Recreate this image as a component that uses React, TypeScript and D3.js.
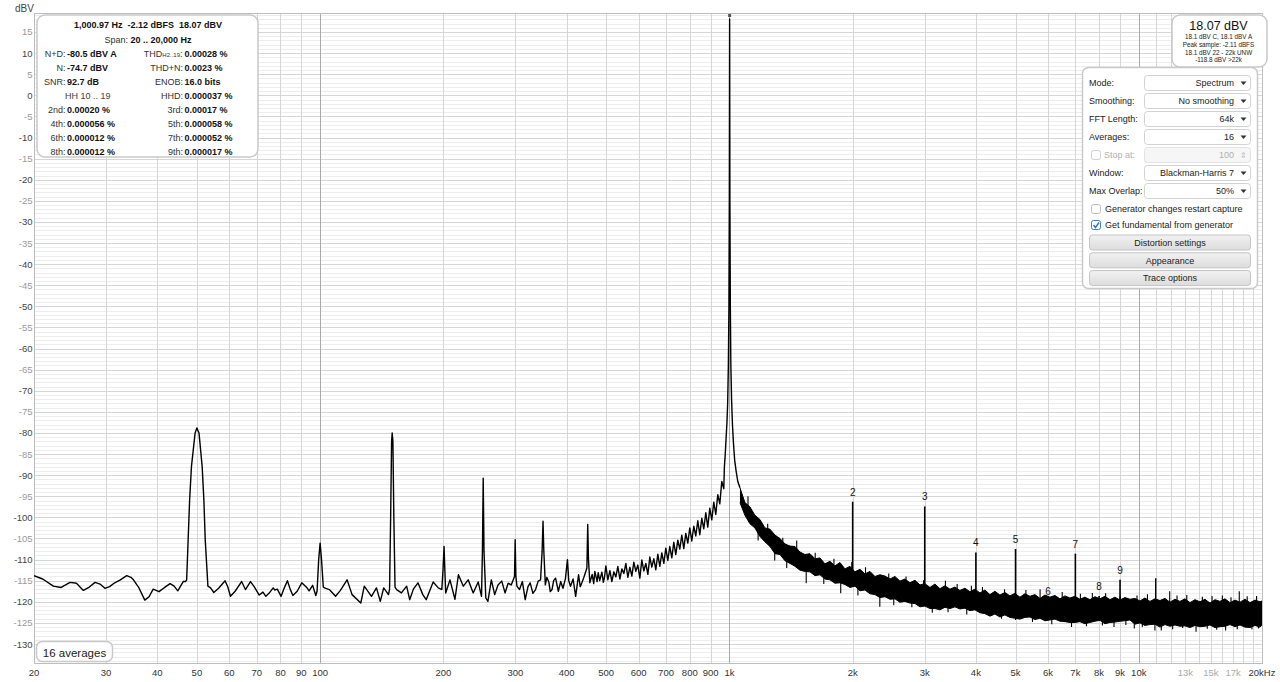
import React from "react";
import * as d3 from "d3";

const FONT = "'Liberation Sans', Arial, Helvetica, sans-serif";
const W = 1280;
const H = 682;
const PLOT = { left: 34, right: 1262, top: 13, bottom: 663 };
const X_DOMAIN: [number, number] = [20, 20000];
const Y_DOMAIN: [number, number] = [-134.5, 19.5];

// ---------- tick labels ----------
const yTickValues = [15, 10, 5, 0, -5, -10, -15, -20, -25, -30, -35, -40, -45, -50, -55, -60, -65, -70, -75, -80, -85, -90, -95, -100, -105, -110, -115, -120, -125, -130];
const xGridFreqs = [20, 30, 40, 50, 60, 70, 80, 90, 100, 200, 300, 400, 500, 600, 700, 800, 900, 1000, 2000, 3000, 4000, 5000, 6000, 7000, 8000, 9000, 10000, 11000, 12000, 13000, 14000, 15000, 16000, 17000, 18000, 19000, 20000];
const xMajorFreqs = [100, 1000, 10000];
const xTickFreqs = [20, 30, 40, 50, 60, 70, 80, 90, 100, 200, 300, 400, 500, 600, 700, 800, 900, 1000, 2000, 3000, 4000, 5000, 6000, 7000, 8000, 9000, 10000, 13000, 15000, 17000, 20000];
const xTickLabels = ["20", "30", "40", "50", "60", "70", "80", "90", "100", "200", "300", "400", "500", "600", "700", "800", "900", "1k", "2k", "3k", "4k", "5k", "6k", "7k", "8k", "9k", "10k", "13k", "15k", "17k", "20kHz"];
const xTickFaint = ["13k", "15k", "17k"];

// ---------- trace: 20 Hz .. 500 Hz (mains hum region) ----------
const humTrace: [number, number][] = [
  [20, -113.8], [21, -114.6], [22.3, -116.3], [23.3, -116.6], [24.5, -115.4], [25.4, -115.6], [26.4, -117.3], [27.3, -116.5],
  [28.2, -115.4], [29, -115.8], [29.8, -116.8], [30.6, -116.4], [31.5, -115.5], [32.5, -114.8], [33.7, -113.8], [34.5, -114.2],
  [35, -114.8], [36, -116.5], [37.3, -119.6], [38.2, -118.8], [39.1, -117], [40.4, -117.6], [41.7, -116.6], [43, -115.7],
  [44, -116.3], [44.9, -117.4], [46.3, -115.2], [46.9, -115.2], [47.2, -114.8], [47.6, -105.3], [48.0, -95.8], [48.5, -87.9],
  [49.5, -80], [50, -78.8], [50.6, -80], [51.5, -87.9], [52.0, -95.8], [52.4, -105.3], [53.2, -116.3], [54, -116.7],
  [55, -117.8], [56.5, -116.8], [58.6, -115], [59.5, -116.5], [60.4, -118.7], [62, -117.5], [64.3, -115.2], [65.7, -117.1],
  [67.6, -115.2], [69, -116.4], [71, -118.4], [72.5, -117.7], [73.7, -118.7], [75, -118], [76.8, -116.7], [77.5, -117.2],
  [78.6, -117], [80.3, -118.7], [81.5, -117], [83.2, -115], [84.5, -117], [85.8, -118.5], [87.9, -117.5], [90.2, -115.5],
  [92.9, -116.7], [94, -117.4], [95.9, -116.1], [97.6, -118.5], [98.3, -117.5], [99.2, -110], [100, -106.1], [100.8, -110],
  [101.8, -116.5], [102.5, -116.7], [105.3, -117.1], [109.1, -118.7], [112.1, -117.3], [116.4, -114.8], [119.7, -118.3],
  [125.7, -120.3], [128.2, -116.3], [133.5, -118.7], [137.3, -116.7], [140.3, -119.9], [143, -116.7], [146.9, -118.3],
  [147.8, -117], [148.7, -100], [149.5, -82], [150, -80], [150.6, -82], [151.4, -100], [152.4, -116.5], [153.8, -117.1],
  [158, -117.9], [162.7, -116.3], [165.5, -119.5], [169, -117], [173.4, -115.5], [178.2, -118.3], [181.6, -119.5],
  [188.9, -115.3], [194.4, -116.7], [198.3, -117.1], [199.5, -113], [200.8, -106.9], [201.8, -113], [202.7, -117.9],
  [207.6, -114.8], [213.5, -119.4], [217.7, -113.6], [223.8, -116.3], [230, -114.8], [236.6, -117.9], [243.3, -115.3],
  [247.9, -118.7], [249.2, -108], [250.3, -90.7], [251.4, -108], [254, -119.1], [257, -119.9], [262, -114.8], [267, -118.3],
  [272, -116], [277.8, -115.1], [283, -117.9], [288, -115.6], [293, -116], [298.5, -114], [299.6, -105.3], [300.8, -114], [302.6, -116.3], [307, -117.1],
  [312, -115.2], [317, -119.5], [322, -116.4], [326, -115.5], [331, -118], [336, -117.1], [341, -115.1], [345.6, -114.8], [348.6, -108], [350.4, -100.9], [352, -108], [355, -116],
  [358, -114.2], [362, -115.3], [365, -117.6], [368.6, -117.1], [372, -115], [376, -114.4], [382, -117.5], [387, -115.2], [392, -116.8], [397.5, -114.5], [402, -110], [405, -115], [409, -116.3],
  [415, -114.6], [421, -118.7], [428, -113.6], [432, -116.4], [436, -115.5], [441, -114.2], [448.5, -112], [450.6, -101.7], [452.5, -110], [456, -115.5], [462, -113.5],
  [466, -115.7], [469, -112.8], [475, -115.2], [478, -113.1], [482, -115], [488, -113], [492, -115.4], [495, -114.3]
];

// ---------- trace: 500 Hz .. 1.06 kHz (fundamental skirt) ----------
const fundamentalTrace: [number, number][] = [
  [499, -111.5], [504.6, -114.8], [510.4, -112.6], [516.1, -115.2], [522, -112.9], [527.9, -114.1], [533.8, -111.6], [539.9, -114.6],
  [546, -112.2], [552.1, -113.3], [558.4, -110.9], [564.7, -114.2], [571.1, -111.8], [577.5, -113.9], [584, -110.6], [590.6, -112.8],
  [597.3, -111.3], [604.1, -114.4], [610.9, -110.1], [617.8, -112.7], [624.8, -110.9], [631.9, -113.5], [639, -109.4], [646.2, -111.8],
  [653.5, -109.8], [660.9, -112.4], [668.4, -108.7], [676, -111.6], [683.6, -108.4], [691.3, -110.9], [699.1, -107.3], [707.1, -110.2],
  [715, -106.9], [723.1, -109.6], [731.3, -105.9], [739.5, -108.8], [747.9, -105.4], [756.3, -107.5], [764.9, -104.2], [773.5, -107.4],
  [782.3, -103.8], [791.1, -106.1], [800.1, -102.5], [809.1, -105.6], [818.3, -102.1], [827.5, -104.4], [836.9, -100.8], [846.3, -104.1],
  [855.9, -100.2], [865.6, -102.7], [875.4, -98.9], [885.3, -102.3], [895.3, -97.8], [905.4, -100.6], [915.7, -96.4], [926, -99.3],
  [936.5, -94.6], [947.1, -96.8], [957.8, -91.5], [968.6, -93.2],
  [972, -88], [976, -85.5], [981, -81.5], [986, -77.5], [990, -73], [994, -64], [997, -50], [999.3, -25], [1000.97, 18.07],
  [1002.6, -25], [1005, -50], [1008, -64], [1012, -72], [1017, -78], [1023, -82.5], [1030, -86.5], [1038, -89], [1048, -91.5], [1061, -93]
];

// ---------- trace: 1.06 kHz .. 20 kHz, per-pixel envelope [Hz, max dBV, min dBV] ----------
const noiseBand: [number, number, number][] = [
  [1061, -93, -96.5], [1091, -96.5, -99.5], [1122, -97.5, -101.5], [1154, -99.5, -102.5], [1187, -100.5, -104.5], [1221, -102.5, -105.8],
  [1256, -102.8, -106.9], [1292, -104.2, -108.6], [1329, -105, -108.8], [1367, -106.3, -110.3], [1406, -106.8, -110.9], [1446, -106.9, -111.6],
  [1487, -108.2, -112.5], [1529, -108.8, -112.8], [1573, -108.6, -112.9], [1618, -109.8, -113.8], [1664, -109.6, -113.6], [1711, -111, -114.6],
  [1760, -110.4, -114.8], [1810, -111.5, -115.6], [1862, -110.7, -115.5], [1915, -112.2, -115.9], [1970, -111.6, -116.6], [2026, -112.9, -116.3],
  [2084, -112.3, -117.4], [2143, -113.4, -117.2], [2204, -112.8, -118.1], [2267, -114, -118.3], [2332, -113.6, -119], [2398, -113.9, -118.8],
  [2467, -114.6, -119.4], [2537, -114, -119.3], [2609, -115.1, -120.1], [2684, -114.6, -119.9], [2760, -115.5, -120.3], [2839, -114.9, -120.4],
  [2920, -116, -121.2], [3003, -115.7, -121], [3089, -116.6, -121.6], [3177, -115.8, -121.6], [3268, -116.9, -121.9], [3361, -116.2, -121.3],
  [3457, -117, -121.6], [3555, -116.5, -121.2], [3657, -117.3, -121.7], [3761, -116.8, -121.5], [3868, -117.6, -122.1], [3979, -117, -121.9],
  [4092, -117.9, -122.6], [4209, -117.2, -122.8], [4329, -118.3, -123.4], [4452, -117.5, -122.9], [4579, -118.4, -123.6], [4710, -117.8, -123.1],
  [4844, -118.6, -123.7], [4982, -118, -123.9], [5124, -118.9, -124.1], [5271, -118.1, -123.7], [5421, -118.7, -123.6], [5576, -118.3, -124.2],
  [5735, -119.2, -123.9], [5898, -118.4, -124.5], [6067, -118.9, -124.3], [6240, -118.5, -124.1], [6418, -119.3, -124.6], [6601, -118.6, -124.7],
  [6789, -119.1, -124.9], [6983, -118.7, -124.9], [7182, -119.4, -124.7], [7387, -118.9, -125.2], [7598, -119.5, -124.9], [7815, -118.8, -124.6],
  [8038, -119.3, -124.4], [8267, -118.7, -125.2], [8503, -119.5, -124.9], [8745, -118.9, -124.8], [8995, -119.6, -124.6], [9252, -119, -124.5],
  [9516, -119.4, -124.3], [9787, -119.2, -125.3], [10066, -119.8, -125], [10353, -119.1, -125.6], [10649, -119.9, -125.4], [10953, -119.3, -125.3],
  [11265, -119.7, -126], [11587, -119.2, -125.4], [11917, -120.1, -125.8], [12257, -119.4, -125.5], [12607, -119.9, -125.8], [12967, -119.3, -125.7],
  [13337, -120.2, -126.1], [13717, -119.5, -125.6], [14109, -120, -125.9], [14511, -119.4, -125.8], [14925, -120.3, -125.5], [15351, -119.5, -126.1],
  [15789, -119.9, -125.9], [16240, -119.3, -125.8], [16703, -120.2, -125.4], [17180, -119.6, -125.9], [17670, -120.1, -125.5], [18174, -119.4, -126],
  [18693, -120.2, -126.1], [19226, -119.6, -125.6], [19775, -120, -126], [20000, -119.8, -125.5]
];

// single-bin noise excursions poking out of the band
const noiseSpikeUp: [number, number][] = [
  [1110, -95], [1240, -101.5], [1350, -104.8], [1460, -105.5], [1620, -108.4], [1800, -109.8], [1990, -110.6], [2150, -111.8], [2450, -113.3],
  [2700, -114], [2980, -114.9], [3370, -115], [3600, -115.8], [3900, -116.2], [4150, -116.5], [4700, -117], [5300, -117.2], [5740, -117],
  [6500, -117.7], [7200, -118.1], [7700, -117.9], [8300, -118], [9000, -118.7], [9900, -118.5], [10500, -118.2], [11900, -117.5], [12400, -118.5],
  [13100, -118.4], [14300, -118.8], [15100, -118.6], [16000, -118.5], [16800, -118.9], [17600, -117.5], [18400, -118.7], [19400, -118.6]
];
const noiseSpikeDown: [number, number][] = [
  [1175, -105.5], [1290, -110.2], [1380, -112], [1540, -115.6], [1700, -115.8], [1870, -118], [2060, -118.5], [2330, -121.2], [2520, -120.8],
  [2790, -121.3], [3130, -122.6], [3420, -122.5], [3800, -123], [4250, -122.8], [4620, -124], [5000, -124.3], [5500, -124.8], [6130, -125.3],
  [6850, -126], [7450, -125.8], [8150, -125.6], [8700, -126], [9300, -125.5], [9750, -126.3], [10200, -126], [10950, -126.8], [11350, -126.8],
  [12100, -126.5], [12800, -126.2], [13800, -127.1], [14700, -126.4], [15500, -126.6], [16300, -126.8], [17400, -126.5], [18900, -126.5], [19600, -126.3]
];

// ---------- harmonic spikes ----------
const harmonicFreq = [2000, 3000, 4000, 5000, 6000, 7000, 8000, 9000];
const harmonicDb = [-96.3, -97.4, -108.3, -107.5, -119.9, -108.6, -118.6, -114.8];
const harmonicLabel = ["2", "3", "4", "5", "6", "7", "8", "9"];
const extraSpikeFreq = [11000];
const extraSpikeDb = [-114.4];

// ---------- readouts ----------
const headline = ["1,000.97 Hz", "-2.12 dBFS", "18.07 dBV"];
const spanText = "20 .. 20,000 Hz";
const infoLeftLabels = ["N+D:", "N:", "SNR:", "", "2nd:", "4th:", "6th:", "8th:"];
const infoLeftValues = ["-80.5 dBV A", "-74.7 dBV", "92.7 dB", "", "0.00020 %", "0.000056 %", "0.000012 %", "0.000012 %"];
const infoRightLabels = ["THD", "THD+N:", "ENOB:", "HHD:", "3rd:", "5th:", "7th:", "9th:"];
const infoRightValues = ["0.00028 %", "0.0023 %", "16.0 bits", "0.000037 %", "0.00017 %", "0.000058 %", "0.000052 %", "0.000017 %"];
const levelBig = "18.07 dBV";
const levelLines = ["18.1 dBV C, 18.1 dBV A", "Peak sample: -2.11 dBFS", "18.1 dBV 22 - 22k UNW", "-118.8 dBV >22k"];
const panelLabels = ["Mode:", "Smoothing:", "FFT Length:", "Averages:", "Stop at:", "Window:", "Max Overlap:"];
const panelValues = ["Spectrum", "No smoothing", "64k", "16", "100", "Blackman-Harris 7", "50%"];
const panelChecks = ["Generator changes restart capture", "Get fundamental from generator"];
const panelButtons = ["Distortion settings", "Appearance", "Trace options"];

export default function App() {
  const x = d3.scaleLog().domain(X_DOMAIN).range([PLOT.left, PLOT.right]);
  const y = d3.scaleLinear().domain(Y_DOMAIN).range([PLOT.bottom, PLOT.top]);

  const line = d3.line<[number, number]>().x((d) => x(d[0])).y((d) => y(d[1]));
  const bandArea = d3
    .area<[number, number, number]>()
    .x((d) => x(d[0]))
    .y0((d) => y(d[2]))
    .y1((d) => y(d[1]));
  const bandHi = d3.line<[number, number, number]>().x((d) => x(d[0])).y((d) => y(d[1]));
  const bandLo = d3.line<[number, number, number]>().x((d) => x(d[0])).y((d) => y(d[2]));

  const bis = d3.bisector((d: [number, number, number]) => d[0]).left;
  const bandAt = (f: number) => {
    const i = Math.min(noiseBand.length - 1, Math.max(0, bis(noiseBand, f)));
    return noiseBand[i];
  };
  const bandMid = (f: number) => {
    const r = bandAt(f);
    return (r[1] + r[2]) / 2;
  };

  const minorY = d3.range(Math.ceil(Y_DOMAIN[0]), Math.floor(Y_DOMAIN[1]) + 1, 1);
  const lineTrace = [...humTrace, ...fundamentalTrace];

  const rowY = [53.3, 67.3, 81.3, 95.3, 109.3, 123.3, 137.3, 151.3];
  const panelRowY = [83, 101, 119, 137, 155, 173, 191];

  const spikePath = (arr: [number, number][]) =>
    arr.map(([f, v]) => `M${x(f).toFixed(2)},${y(bandMid(f)).toFixed(2)}L${x(f).toFixed(2)},${y(v).toFixed(2)}`).join("");

  return (
    <svg
      width={W}
      height={H}
      viewBox={`0 0 ${W} ${H}`}
      style={{ position: "fixed", left: 0, top: 0, display: "block", background: "#fff" }}
      fontFamily={FONT}
    >
      <defs>
        <clipPath id="plotClip">
          <rect x={PLOT.left} y={PLOT.top} width={PLOT.right - PLOT.left} height={PLOT.bottom - PLOT.top} />
        </clipPath>
        <linearGradient id="btnGrad" x1="0" y1="0" x2="0" y2="1">
          <stop offset="0" stopColor="#f2f2f2" />
          <stop offset="1" stopColor="#dcdcdc" />
        </linearGradient>
      </defs>
      <rect x={0} y={0} width={W} height={H} fill="#fff" />

      {/* grid */}
      <g shapeRendering="crispEdges">
        {minorY.map((v) => (
          <line
            key={"hy" + v}
            x1={PLOT.left}
            x2={PLOT.right}
            y1={Math.round(y(v)) + 0.5}
            y2={Math.round(y(v)) + 0.5}
            stroke={v % 5 === 0 ? "#d6d6d6" : "#ededed"}
            strokeWidth={1}
          />
        ))}
        {xGridFreqs.map((f) => (
          <line
            key={"vx" + f}
            x1={Math.round(x(f)) + 0.5}
            x2={Math.round(x(f)) + 0.5}
            y1={PLOT.top}
            y2={PLOT.bottom}
            stroke={xMajorFreqs.includes(f) ? "#a9a9a9" : "#d6d6d6"}
            strokeWidth={1}
          />
        ))}
        <rect
          x={PLOT.left + 0.5}
          y={PLOT.top + 0.5}
          width={PLOT.right - PLOT.left}
          height={PLOT.bottom - PLOT.top}
          fill="none"
          stroke="#bdbdbd"
          strokeWidth={1.5}
        />
      </g>

      {/* axis labels */}
      <text x={15} y={12} fontSize={10} fill="#444">dBV</text>
      {yTickValues.map((v) => (
        <text
          key={"yl" + v}
          x={32.5}
          y={y(v) + 3.5}
          fontSize={9.5}
          textAnchor="end"
          fill={v % 10 === 0 ? "#444" : "#9a9a9a"}
        >
          {v}
        </text>
      ))}
      {xTickFreqs.map((f, i) => (
        <text
          key={"xl" + f}
          x={x(f)}
          y={676}
          fontSize={9.5}
          textAnchor="middle"
          fill={xTickFaint.includes(xTickLabels[i]) ? "#aaaaaa" : "#333"}
        >
          {xTickLabels[i]}
        </text>
      ))}

      {/* trace */}
      <g clipPath="url(#plotClip)">
        <path d={bandArea(noiseBand) || ""} fill="#000" />
        <path d={bandHi(noiseBand) || ""} fill="none" stroke="#000" strokeWidth={1} strokeLinejoin="round" />
        <path d={bandLo(noiseBand) || ""} fill="none" stroke="#000" strokeWidth={1} strokeLinejoin="round" />
        <path d={spikePath(noiseSpikeUp)} fill="none" stroke="#000" strokeWidth={1.1} />
        <path d={spikePath(noiseSpikeDown)} fill="none" stroke="#000" strokeWidth={1.1} />
        <path d={line(lineTrace) || ""} fill="none" stroke="#000" strokeWidth={1.4} strokeLinejoin="round" />
        {harmonicFreq.map((f, i) => (
          <line
            key={"h" + f}
            x1={x(f)}
            x2={x(f)}
            y1={y(Math.min(bandMid(f), harmonicDb[i] - 2))}
            y2={y(harmonicDb[i])}
            stroke="#000"
            strokeWidth={1.6}
          />
        ))}
        {extraSpikeFreq.map((f, i) => (
          <line
            key={"e" + f}
            x1={x(f)}
            x2={x(f)}
            y1={y(bandMid(f))}
            y2={y(extraSpikeDb[i])}
            stroke="#000"
            strokeWidth={1.4}
          />
        ))}
        <rect x={x(1000.97) - 1.5} y={PLOT.top + 1} width={3} height={3} fill="#555" />
      </g>
      {harmonicFreq.map((f, i) => (
        <text key={"hl" + f} x={x(f)} y={y(harmonicDb[i]) - 6} fontSize={10} textAnchor="middle" fill="#111">
          {harmonicLabel[i]}
        </text>
      ))}

      {/* readout box, top-left */}
      <rect x={37} y={15} width={221} height={142} rx={8} fill="#fff" stroke="#c9c9c9" strokeWidth={1.5} />
      <text x={148} y={28.3} fontSize={9} textAnchor="middle" fontWeight="bold" fill="#111" style={{ whiteSpace: "pre" }}>
        {headline.join("  ")}
      </text>
      <text x={148} y={42.5} fontSize={9} textAnchor="middle" fill="#333" style={{ whiteSpace: "pre" }}>
        <tspan>Span: </tspan>
        <tspan fontWeight="bold" fill="#111">{spanText}</tspan>
      </text>
      {infoLeftLabels.map((lab, i) =>
        lab ? (
          <g key={"il" + i}>
            <text x={65.5} y={rowY[i] + 3.2} fontSize={9} textAnchor="end" fill="#333">{lab}</text>
            <text x={67} y={rowY[i] + 3.2} fontSize={9} fontWeight="bold" fill="#111">{infoLeftValues[i]}</text>
          </g>
        ) : (
          <text key={"il" + i} x={65} y={rowY[i] + 3.2} fontSize={9} fill="#444">HH 10 .. 19</text>
        )
      )}
      {infoRightLabels.map((lab, i) => (
        <g key={"ir" + i}>
          {i === 0 ? (
            <text x={182.5} y={rowY[i] + 3.2} fontSize={9} textAnchor="end" fill="#333">
              <tspan>THD</tspan>
              <tspan fontSize={6}>H2..19</tspan>
              <tspan>:</tspan>
            </text>
          ) : (
            <text x={183} y={rowY[i] + 3.2} fontSize={9} textAnchor="end" fill="#333">{lab}</text>
          )}
          <text x={184.5} y={rowY[i] + 3.2} fontSize={9} fontWeight="bold" fill="#111">
            {infoRightValues[i]}
          </text>
        </g>
      ))}

      {/* level box, top-right */}
      <rect x={1172} y={15} width={95} height={52} rx={8} fill="#fff" stroke="#c9c9c9" strokeWidth={1.5} />
      <text x={1218.5} y={30} fontSize={12.5} textAnchor="middle" fill="#111">{levelBig}</text>
      {levelLines.map((t, i) => (
        <text key={"lv" + i} x={1218.5} y={39 + i * 7.8} fontSize={6.3} textAnchor="middle" fill="#222">{t}</text>
      ))}

      {/* settings panel */}
      <rect x={1082.5} y={67.5} width={175} height={221} rx={6} fill="#fff" stroke="#c9c9c9" strokeWidth={1.5} />
      {panelLabels.map((lab, i) => {
        const cy = panelRowY[i];
        const disabled = i === 4;
        return (
          <g key={"pr" + i}>
            {disabled && (
              <rect x={1091.5} y={cy - 4.5} width={9} height={9} rx={2} fill="#fff" stroke="#cfcfcf" />
            )}
            <text x={disabled ? 1104 : 1089} y={cy + 3.2} fontSize={9} fill={disabled ? "#b0b0b0" : "#222"}>{lab}</text>
            <rect
              x={1144.5}
              y={cy - 7.5}
              width={106}
              height={15}
              rx={3}
              fill={disabled ? "#f6f6f6" : "#fff"}
              stroke={disabled ? "#e2e2e2" : "#d2d2d2"}
            />
            <text x={1234} y={cy + 3.2} fontSize={9} textAnchor="end" fill={disabled ? "#b0b0b0" : "#222"}>
              {panelValues[i]}
            </text>
            {disabled ? (
              <text x={1243.5} y={cy + 3} fontSize={8} textAnchor="middle" fill="#b8b8b8">⇕</text>
            ) : (
              <path d={`M${1240.5},${cy - 1.5} L${1246.5},${cy - 1.5} L${1243.5},${cy + 2} Z`} fill="#333" />
            )}
          </g>
        );
      })}
      {panelChecks.map((t, i) => {
        const cy = 209 + i * 16;
        return (
          <g key={"pc" + i}>
            <rect x={1091.5} y={cy - 4.5} width={9} height={9} rx={2} fill="#fff" stroke={i === 1 ? "#3b7fd6" : "#bdbdbd"} />
            {i === 1 && (
              <path
                d={`M${1093.5},${cy} L${1095.5},${cy + 2.5} L${1099},${cy - 2.5}`}
                fill="none"
                stroke="#2f74cf"
                strokeWidth={1.4}
              />
            )}
            <text x={1105} y={cy + 3.2} fontSize={9} fill="#222">{t}</text>
          </g>
        );
      })}
      {panelButtons.map((t, i) => {
        const cy = 242.5 + i * 17.8;
        return (
          <g key={"pb" + i}>
            <rect x={1089.5} y={cy - 7.5} width={161} height={15} rx={3} fill="url(#btnGrad)" stroke="#c4c4c4" />
            <text x={1170} y={cy + 3.2} fontSize={9} textAnchor="middle" fill="#222">{t}</text>
          </g>
        );
      })}

      {/* averages badge */}
      <rect x={36.5} y={641.5} width={76} height={20} rx={6} fill="#fff" stroke="#c9c9c9" strokeWidth={1.5} />
      <text x={74.5} y={656.5} fontSize={11.5} textAnchor="middle" fill="#222">16 averages</text>
    </svg>
  );
}
